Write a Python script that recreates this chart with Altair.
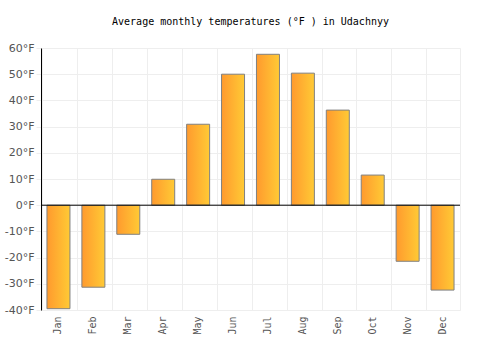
import altair as alt
import pandas as pd

months = ["Jan", "Feb", "Mar", "Apr", "May", "Jun", "Jul", "Aug", "Sep", "Oct", "Nov", "Dec"]
temps = [-39.5, -31.3, -11.1, 9.9, 30.9, 50.0, 57.6, 50.4, 36.3, 11.5, -21.4, -32.4]
ticks = [-40, -30, -20, -10, 0, 10, 20, 30, 40, 50, 60]

df = pd.DataFrame({"month": months, "temp": temps})
FONT = "DejaVu Sans Mono"

grad = alt.Gradient(
    gradient="linear",
    stops=[alt.GradientStop(color="#FF9A2E", offset=0), alt.GradientStop(color="#FFCA35", offset=1)],
    x1=0, x2=1, y1=0, y2=0,
)

y_axis = alt.Axis(values=ticks, labelExpr="datum.value + '°F'",
                  labelFont="DejaVu Sans", labelFontSize=11, labelColor="#555",
                  labelOverlap=False,
                  gridColor="#eeeeee", domainColor="#000", tickColor="#eeeeee",
                  tickSize=5, labelPadding=2)
y_scale = alt.Scale(domain=[-40, 60])

bars = alt.Chart(df).mark_bar(fill=grad, stroke="#808080", strokeWidth=1, width=23).encode(
    x=alt.X("month:N", sort=months, title=None,
            axis=alt.Axis(labelAngle=270, labelAlign="right", labelBaseline="middle",
                          labelFont=FONT, labelFontSize=10, labelColor="#555",
                          grid=True, gridColor="#eeeeee", bandPosition=0,
                          domain=False, ticks=False, labelPadding=6)),
    y=alt.Y("temp:Q", scale=y_scale, title=None, axis=y_axis),
)

zero = alt.Chart(pd.DataFrame({"temp": [0]})).mark_rule(color="#000", strokeWidth=1).encode(
    y=alt.Y("temp:Q", scale=y_scale, title=None, axis=y_axis))

chart = alt.layer(bars, zero).properties(
    width=419, height=262,
    title=alt.TitleParams("Average monthly temperatures (°F ) in Udachnyy", font=FONT,
                          fontSize=10, fontWeight="normal", color="#000", offset=15, anchor="middle"),
    autosize=alt.AutoSizeParams(type="none"),
    padding={"left": 41, "top": 48, "right": 40, "bottom": 40},
).configure_view(stroke="#eeeeee")

chart.save("out.html", embed_options={"renderer": "svg", "actions": False})
